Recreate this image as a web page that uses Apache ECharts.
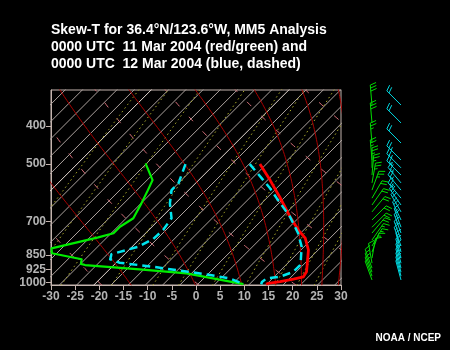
<!DOCTYPE html>
<html><head><meta charset="utf-8">
<script src="https://cdn.jsdelivr.net/npm/echarts@6/dist/echarts.min.js"></script>
<style>html,body{margin:0;padding:0;background:#000}#c{width:450px;height:350px}</style>
</head><body><div id="c"></div>
<script>
// ---------- data ----------
const xTicks = [-30, -25, -20, -15, -10, -5, 0, 5, 10, 15, 20, 25, 30];
const pressureTicks = [400, 500, 700, 850, 925, 1000];

// 11 Mar 2004 temperature (red) and dewpoint (green): pressure hPa, deg C
const t11P  = [500, 549, 606, 680, 735, 771, 826, 876, 938, 966, 979, 994, 1004, 1009];
const t11T  = [-11.3, -5.9, -0.4, 5.8, 10.3, 13.4, 16.5, 18.4, 20.6, 21.0, 19.4, 17.2, 15.1, 14.8];
const td11P = [498, 549, 582, 629, 686, 721, 749, 767, 818, 842, 850, 872, 896, 902, 925, 947, 1008];
const td11T = [-35.1, -30.2, -29.1, -27.7, -26.3, -27.3, -27.3, -29.6, -37.0, -35.9, -35.3, -28.5, -27.7, -26.6, -14.4, -3.9, 10.1];

// 12 Mar 2004 temperature and dewpoint (cyan dashed)
const t12P  = [500, 549, 576, 610, 680, 749, 810, 884, 902, 938, 966, 975, 996, 1009];
const t12T  = [-13.4, -7.3, -4.2, -0.8, 5.8, 10.9, 14.4, 17.3, 17.9, 17.9, 16.1, 13.7, 13.5, 13.8];
const td12P = [500, 559, 582, 629, 686, 735, 774, 810, 826, 846, 872, 890, 911, 938, 956, 975, 1008];
const td12T = [-26.7, -24.2, -24.2, -21.8, -18.4, -17.7, -17.9, -19.4, -21.1, -23.4, -22.6, -19.9, -12.2, -3.9, 1.3, 6.1, 10.1];

// background reference lines
const ISO_BASE = 0.7, ISO_STEP = 3.56;                                   // isotherm spacing
const brightIsotherms = [-14, -6];                                        // indices of the lighter isotherms
const dryAdiabats = [-40, -20, 0, 20, 40, 60, 80, 100];                 // potential temperature, deg C
const moistAdiabats = [243, 263, 283, 303, 323, 343, 363, 383];          // equivalent potential temperature, K
const mixingRatios = [0.1, 0.2, 0.4, 1, 2, 3, 5, 8, 12, 16, 20];         // g/kg

// winds (pressure hPa, direction deg, speed kt)
const windP     = [354, 393, 442, 488, 511, 533, 558, 582, 610, 635, 661, 693, 723, 748, 779, 807, 836, 866, 892, 918, 940, 962, 984];
const wind11Dir = [355, 355, 355, 355, 360, 5, 10, 20, 30, 35, 40, 45, 45, 40, 35, 30, 20, 10, 350, 340, 340, 340, 340];
const wind11Spd = [30, 30, 25, 25, 25, 25, 25, 25, 20, 20, 20, 20, 20, 20, 15, 15, 15, 10, 10, 10, 10, 10, 10];
const wind12Dir = [315, 315, 315, 315, 315, 315, 320, 320, 320, 325, 330, 335, 340, 340, 340, 340, 345, 345, 345, 345, 345, 345, 345];
const wind12Spd = [20, 20, 20, 25, 25, 25, 25, 25, 25, 20, 20, 20, 15, 15, 15, 15, 15, 15, 15, 15, 10, 10, 10];

// ---------- geometry helpers ----------
const SKEW = 35.38;           // deg C shift per unit ln(1000/p)
const P_BOTTOM = 1013.5, P_TOP = 324.2;
const lnp = p => Math.log(1000 / p);
const skewPt = (p, t) => [t + SKEW * lnp(p), lnp(p)];
const profile = (P, T) => P.map((p, i) => skewPt(p, T[i]));

function pressureSteps(step) {
  const out = [];
  for (let p = P_BOTTOM + 3; p > P_TOP - step; p -= step) out.push(Math.max(p, P_TOP - 2));
  return out;
}
const PS = pressureSteps(4);

const es = tc => 6.112 * Math.exp(17.67 * tc / (tc + 243.5));
function thetaE(Tk, p) {
  const e = es(Tk - 273.15);
  if (e > 0.5 * p) return 1e9;
  const r = 622 * e / (p - e);
  return Tk * Math.pow(1000 / p, 0.2854 * (1 - 0.00028 * r)) * Math.exp((3.376 / Tk - 0.00254) * r * (1 + 0.00081 * r));
}
function moistCurve(the) {
  return PS.map(p => {
    let lo = 140, hi = 340;
    for (let i = 0; i < 40; i++) { const m = (lo + hi) / 2; if (thetaE(m, p) > the) hi = m; else lo = m; }
    return skewPt(p, (lo + hi) / 2 - 273.15);
  });
}
function dryCurve(th) {
  return PS.map(p => skewPt(p, (th + 273.15) * Math.pow(p / 1000, 0.2857) - 273.15));
}
function mixCurve(w) {
  return PS.map(p => { const e = (w / 1000) * p / (0.622 + w / 1000); const l = Math.log(e / 6.112);
    return skewPt(p, 243.5 * l / (17.67 - l)); });
}
function isoCurve(t) { return [skewPt(P_BOTTOM + 5, t), skewPt(P_TOP - 5, t)]; }

const bg = (data, color, width, type) => ({
  type: 'line', data, xAxisIndex: 0, yAxisIndex: 0, showSymbol: false, silent: true, clip: true,
  lineStyle: { color, width, type: type || 'solid' }, z: 1
});

const series = [];
for (let k = -40; k <= 10; k++) {
  const bright = brightIsotherms.indexOf(k) >= 0;
  series.push(bg(isoCurve(ISO_BASE + k * ISO_STEP), bright ? '#e6dad4' : '#aca29e', 1));
}
mixingRatios.forEach(w => series.push(bg(mixCurve(w), '#acac2a', 1, [1.5, 3])));
dryAdiabats.forEach(th => series.push(bg(dryCurve(th), '#d46e78', 1, [6, 14])));
moistAdiabats.forEach(t => series.push(bg(moistCurve(t), '#a80000', 1)));

const prof = (P, T, color, width, type) => ({
  type: 'line', data: profile(P, T), xAxisIndex: 0, yAxisIndex: 0, showSymbol: false, silent: true, clip: true,
  lineStyle: { color, width, type: type || 'solid', cap: 'butt', join: 'round' }, z: 5
});
series.push(prof(td11P, td11T, '#00ee00', 2.2));
series.push(prof(t11P, t11T, '#ff0000', 2.8));
series.push(prof(td12P, td12T, '#00e5ee', 2.5, [8, 5]));
series.push(prof(t12P, t12T, '#00e5ee', 2.5, [8, 5]));

function barbSeries(col, P, D, S, color) {
  return {
    type: 'custom', xAxisIndex: 1, yAxisIndex: 1, silent: true, z: 6,
    data: P.map((p, i) => [col, lnp(p), D[i], S[i]]),
    renderItem: (params, api) => {
      const c = api.coord([api.value(0), api.value(1)]);
      const a = api.value(2) * Math.PI / 180;
      let s = Math.round(api.value(3) / 5) * 5;
      const ux = Math.sin(a), uy = -Math.cos(a), fx = -uy, fy = ux;
      const L = 20, fl = 6, gap = 3;
      const tip = [c[0] + ux * L, c[1] + uy * L];
      const st = { stroke: color, lineWidth: 1, fill: null };
      const ch = [{ type: 'line', shape: { x1: c[0], y1: c[1], x2: tip[0], y2: tip[1] }, style: st }];
      let d = 0;
      const feather = (len) => {
        const bx = tip[0] - ux * d, by = tip[1] - uy * d;
        ch.push({ type: 'line', shape: { x1: bx, y1: by, x2: bx + fx * len + ux * len * 0.35, y2: by + fy * len + uy * len * 0.35 }, style: st });
      };
      while (s >= 10) { feather(fl); d += gap; s -= 10; }
      if (s >= 5) { if (d === 0) d = gap; feather(fl / 2); }
      return { type: 'group', children: ch };
    }
  };
}
series.push(barbSeries(22, windP, wind11Dir, wind11Spd, '#00dd00'));
series.push(barbSeries(51, windP, wind12Dir, wind12Spd, '#00d8e0'));

const axisColor = '#c4b4ae';
const labelStyle = { color: '#b4b4b4', fontSize: 12, fontWeight: 'bold', fontFamily: 'Liberation Sans, Arial, sans-serif' };
const Y_MIN = lnp(P_BOTTOM), Y_MAX = lnp(P_TOP);

const option = {
  backgroundColor: '#000',
  animation: false,
  title: {
    text: 'Skew-T for 36.4°N/123.6°W, MM5 Analysis\n0000 UTC  11 Mar 2004 (red/green) and\n0000 UTC  12 Mar 2004 (blue, dashed)',
    left: 51, top: 22, padding: 0,
    textStyle: { color: '#ffffff', fontSize: 14, fontWeight: 'bold', lineHeight: 16.7, fontFamily: 'Liberation Sans, Arial, sans-serif' }
  },
  graphic: [{
    type: 'text', right: 9, top: 333,
    style: { text: 'NOAA / NCEP', fill: '#ffffff', font: 'bold 10px "Liberation Sans", Arial, sans-serif' }
  }],
  grid: [
    { left: 51, right: 109, top: 90, bottom: 65, show: true, borderColor: axisColor, borderWidth: 1, backgroundColor: '#000' },
    { left: 350, width: 100, top: 90, bottom: 65, show: false }
  ],
  xAxis: [
    { type: 'value', gridIndex: 0, min: -30, max: 30, interval: 5,
      axisLine: { show: true, onZero: false, lineStyle: { color: axisColor } },
      axisTick: { show: true, length: 5, lineStyle: { color: axisColor } },
      splitLine: { show: false },
      axisLabel: Object.assign({ margin: 6, customValues: xTicks, formatter: v => String(v) }, labelStyle) },
    { type: 'value', gridIndex: 1, min: 0, max: 100, show: false }
  ],
  yAxis: [
    { type: 'value', gridIndex: 0, min: Y_MIN, max: Y_MAX,
      axisLine: { show: true, onZero: false, lineStyle: { color: axisColor } },
      axisTick: { show: true, length: 5, customValues: pressureTicks.map(lnp), lineStyle: { color: axisColor } },
      splitLine: { show: false },
      axisLabel: Object.assign({ margin: 5, customValues: pressureTicks.map(lnp), formatter: v => String(Math.round(1000 * Math.exp(-v))) }, labelStyle) },
    { type: 'value', gridIndex: 1, min: Y_MIN, max: Y_MAX, show: false }
  ],
  series
};
const chart = echarts.init(document.getElementById('c'), null, { renderer: 'canvas' });
chart.setOption(option);
</script>
</body></html>
